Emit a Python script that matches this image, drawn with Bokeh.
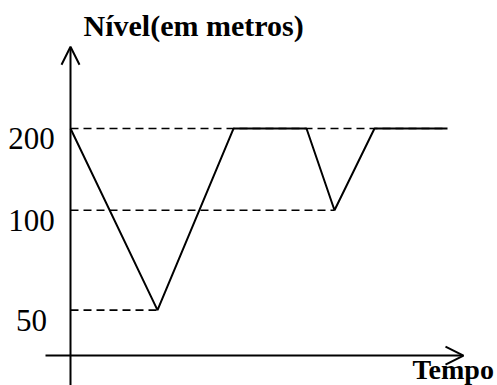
from bokeh.plotting import figure
from bokeh.models import Range1d, Arrow, OpenHead, ColumnDataSource, Label
from bokeh.core.properties import value
from bokeh.embed import file_html
from bokeh.resources import INLINE

# ---- data ----
times = [0, 8.7, 16.3, 23.6, 26.4, 30.4, 37.7]          # time (schematic units)
levels = [200, 50, 200, 200, 100, 200, 200]               # water level (m)
tick_levels = [200, 100, 50]
tick_labels = ["200", "100", "50"]
# schematic (non-proportional) drawing height of each level, as in the sketch
level_height = {200: 200, 100: 128, 50: 40}

title_text = "Nível(em metros)"
xlabel_text = "Tempo"

ys = [level_height[v] for v in levels]

p = figure(width=497, height=385, output_backend="svg", toolbar_location=None,
           x_range=Range1d(-7.0, 42.7), y_range=Range1d(-26.4, 312.8),
           min_border=0, x_axis_location=None, y_axis_location=None)
p.outline_line_color = None
p.grid.visible = False
p.background_fill_color = "white"

serif = value("Liberation Serif")

# axes with arrows
p.add_layout(Arrow(x_start=0, y_start=-26.4, x_end=0, y_end=272,
                   line_width=2, line_color="black",
                   end=OpenHead(size=18, line_width=2, line_color="black")))
p.add_layout(Arrow(x_start=-2.5, y_start=0, x_end=39.3, y_end=0,
                   line_width=2, line_color="black",
                   end=OpenHead(size=18, line_width=2, line_color="black")))

# dashed reference lines: from the y axis to where each level is reached
for lv in tick_levels:
    idx = [i for i, v in enumerate(levels) if v == lv]
    if lv == max(levels):
        x_end = times[-1]
    else:
        x_end = times[idx[0]]
    h = level_height[lv]
    p.line([0, x_end], [h, h], line_dash="8 5", line_width=1.6, line_color="black")

# level series
p.line(times, ys, line_width=2, line_color="black")

# tick labels
src = ColumnDataSource(dict(x=[-3.9] * len(tick_levels),
                            y=[level_height[v] for v in tick_levels],
                            t=tick_labels))
p.text(x="x", y="y", text="t", source=src, text_font=serif, text_font_size="31px",
       text_align="center", text_baseline="alphabetic", y_offset=10, text_color="black")

p.add_layout(Label(x=1.3, y=291, text=title_text, text_font="Liberation Serif",
                   text_font_size="30px", text_font_style="bold",
                   text_baseline="alphabetic", text_color="black"))
p.add_layout(Label(x=34.2, y=-12.2, text=xlabel_text, text_font="Liberation Serif",
                   text_font_size="28px", text_font_style="bold",
                   text_baseline="alphabetic", text_color="black"))

open("out.html", "w").write(file_html(p, INLINE))
